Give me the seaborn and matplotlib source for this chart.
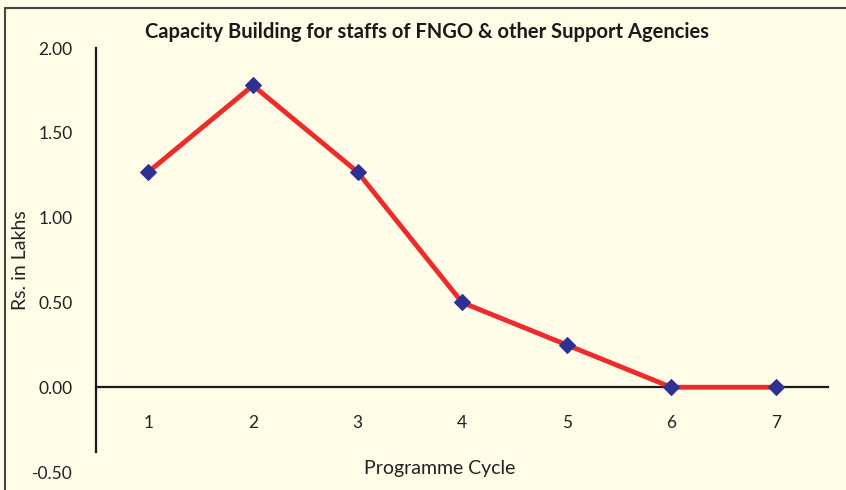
import matplotlib
matplotlib.use("Agg")
import matplotlib.pyplot as plt
import seaborn as sns
from matplotlib.patches import Rectangle
from matplotlib.ticker import FormatStrFormatter

# data
cycles = [1, 2, 3, 4, 5, 6, 7]
amount = [1.27, 1.78, 1.27, 0.50, 0.25, 0.00, 0.00]
yticks = [-0.5, 0.0, 0.5, 1.0, 1.5, 2.0]

bg = "#FFFDE8"
sns.set_style("white")
plt.rcParams["font.family"] = ["Lato", "DejaVu Sans"]

fig = plt.figure(figsize=(8.46, 4.9), dpi=100, facecolor=bg)
ax = fig.add_axes([0.1135, 0.0367, 0.8655, 0.865])
ax.set_facecolor(bg)

sns.lineplot(x=cycles, y=amount, ax=ax, color="#EE2A2A", linewidth=3.5,
             marker="D", markersize=8.5, markerfacecolor="#2E3192",
             markeredgecolor="#2E3192", zorder=3)

ax.set_xlim(0.5, 7.5)
ax.set_ylim(-0.5, 2.0)
ax.set_xticks(cycles)
ax.set_yticks(yticks)
ax.yaxis.set_major_formatter(FormatStrFormatter("%.2f"))

for s in ["top", "right"]:
    ax.spines[s].set_visible(False)
ax.spines["bottom"].set_position(("data", 0))
ax.spines["left"].set_bounds(-0.38, 2.0)
for s in ["bottom", "left"]:
    ax.spines[s].set_color("#1a1a1a")
    ax.spines[s].set_linewidth(1.6)

ax.tick_params(axis="both", length=0, labelsize=12.5, colors="#222222")
ax.tick_params(axis="x", pad=20)
ax.tick_params(axis="y", pad=17)

ax.set_xlabel("Programme Cycle", fontsize=14, color="#222222")
ax.set_ylabel("Rs. in Lakhs", fontsize=14, color="#222222")
ax.xaxis.set_label_coords(0.47, 0.028)
ax.yaxis.set_label_coords(-0.092, 0.5)
fig.text(0.505, 0.935, "Capacity Building for staffs of FNGO & other Support Agencies",
         ha="center", va="center", fontsize=14.5, fontweight="bold", color="#1a1a1a")

# outer frame of the chart (cropped on right and bottom)
fig.patches.append(Rectangle((5 / 846, -0.2), 1.2, (490 - 8) / 490 + 0.2,
                             transform=fig.transFigure, fill=False,
                             edgecolor="#444444", linewidth=1.5))

fig.savefig("out.png", dpi=100, facecolor=bg)
